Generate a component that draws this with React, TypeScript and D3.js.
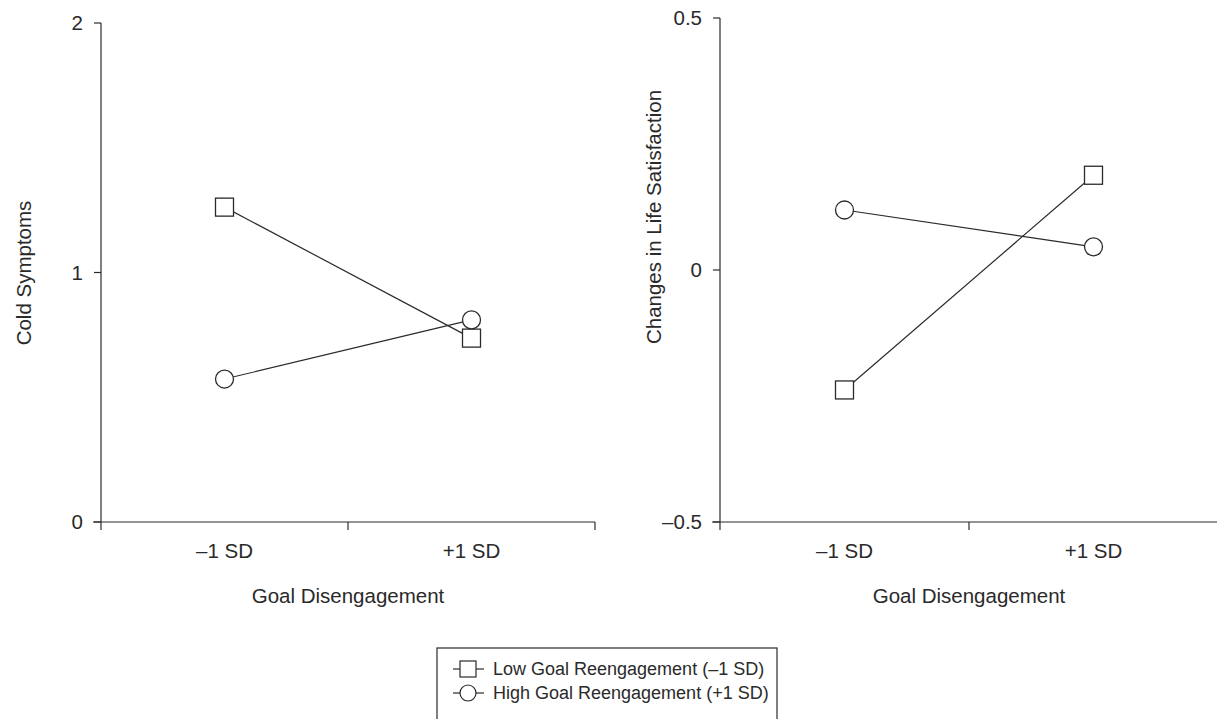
import React from "react";
import * as d3 from "d3";

const categories = ["–1 SD", "+1 SD"];
const coldLow = [1.262, 0.737];
const coldHigh = [0.573, 0.81];
const lifeLow = [-0.238, 0.188];
const lifeHigh = [0.119, 0.046];
const coldTicks = [0, 1, 2];
const lifeTicks = [-0.5, 0, 0.5];
const legendLabels = ["Low Goal Reengagement (–1 SD)", "High Goal Reengagement (+1 SD)"];

const FONT = "'Liberation Sans', Arial, Helvetica, sans-serif";
const INK = "#2a2a2a";
const FS = 20.5;

function fmt(v: number) {
  const s = String(v);
  return s.replace("-", "–");
}

function Panel(props: {
  x0: number; x1: number; yTop: number; yBot: number;
  domain: [number, number]; ticks: number[];
  low: number[]; high: number[]; ylabel: string; ylabelX: number; ylabelY: number;
}) {
  const { x0, x1, yTop, yBot, domain, ticks, low, high, ylabel, ylabelX, ylabelY } = props;
  const x = d3.scaleBand<string>().domain(categories).range([x0, x1]);
  const y = d3.scaleLinear().domain(domain).range([yBot, yTop]);
  const cx = (c: string) => (x(c) as number) + x.bandwidth() / 2;
  const line = d3.line<number>().x((_, i) => cx(categories[i])).y((d) => y(d));
  const bounds = [x0, ...categories.map((c) => (x(c) as number) + x.bandwidth())];
  return (
    <g>
      <line x1={x0} x2={x0} y1={y(domain[1])} y2={yBot} stroke={INK} strokeWidth={1.2} />
      <line x1={x0 - 8} x2={x1} y1={yBot} y2={yBot} stroke={INK} strokeWidth={1.2} />
      {ticks.map((t) => (
        <g key={t}>
          <line x1={x0 - 7} x2={x0} y1={y(t)} y2={y(t)} stroke={INK} strokeWidth={1.2} />
          <text x={x0 - 18} y={y(t)} dy="0.36em" textAnchor="end" fontSize={FS} fill={INK} fontFamily={FONT}>
            {fmt(t)}
          </text>
        </g>
      ))}
      {bounds.map((b, i) => (
        <line key={i} x1={b} x2={b} y1={yBot} y2={yBot + 8} stroke={INK} strokeWidth={1.2} />
      ))}
      {categories.map((c) => (
        <text key={c} x={cx(c)} y={yBot + 36} textAnchor="middle" fontSize={FS} fill={INK} fontFamily={FONT}>
          {c}
        </text>
      ))}
      <text x={(x0 + x1) / 2} y={yBot + 81} textAnchor="middle" fontSize={FS} fill={INK} fontFamily={FONT}>
        Goal Disengagement
      </text>
      <text
        transform={`translate(${ylabelX},${ylabelY}) rotate(-90)`}
        textAnchor="middle"
        fontSize={FS}
        fill={INK}
        fontFamily={FONT}
      >
        {ylabel}
      </text>
      <path d={line(low) || ""} fill="none" stroke={INK} strokeWidth={1.2} />
      <path d={line(high) || ""} fill="none" stroke={INK} strokeWidth={1.2} />
      {low.map((v, i) => (
        <rect key={"s" + i} x={cx(categories[i]) - 9} y={y(v) - 9} width={18} height={18} fill="white" stroke={INK} strokeWidth={1.3} />
      ))}
      {high.map((v, i) => (
        <circle key={"c" + i} cx={cx(categories[i])} cy={y(v)} r={9} fill="white" stroke={INK} strokeWidth={1.3} />
      ))}
    </g>
  );
}

export default function App() {
  return (
    <svg width={1217} height={719} style={{ position: "absolute", left: 0, top: 0, background: "white" }}>
      <rect width={1217} height={719} fill="white" />
      <Panel x0={101} x1={595} yTop={23} yBot={522} domain={[0, 2]} ticks={coldTicks}
        low={coldLow} high={coldHigh} ylabel="Cold Symptoms" ylabelX={31} ylabelY={273} />
      <Panel x0={720} x1={1218} yTop={18} yBot={522} domain={[-0.5, 0.5]} ticks={lifeTicks}
        low={lifeLow} high={lifeHigh} ylabel="Changes in Life Satisfaction" ylabelX={661} ylabelY={217} />
      <g>
        <rect x={437} y={648} width={340} height={90} fill="white" stroke={INK} strokeWidth={1.2} />
        {legendLabels.map((l, i) => {
          const yy = 669 + i * 24;
          return (
            <g key={l}>
              <line x1={453} x2={484} y1={yy} y2={yy} stroke={INK} strokeWidth={1.2} />
              {i === 0 ? (
                <rect x={460} y={yy - 8} width={16} height={16} fill="white" stroke={INK} strokeWidth={1.2} />
              ) : (
                <circle cx={468} cy={yy} r={8} fill="white" stroke={INK} strokeWidth={1.2} />
              )}
              <text x={493} y={yy} dy="0.36em" fontSize={18} fill={INK} fontFamily={FONT}>
                {l}
              </text>
            </g>
          );
        })}
      </g>
    </svg>
  );
}
